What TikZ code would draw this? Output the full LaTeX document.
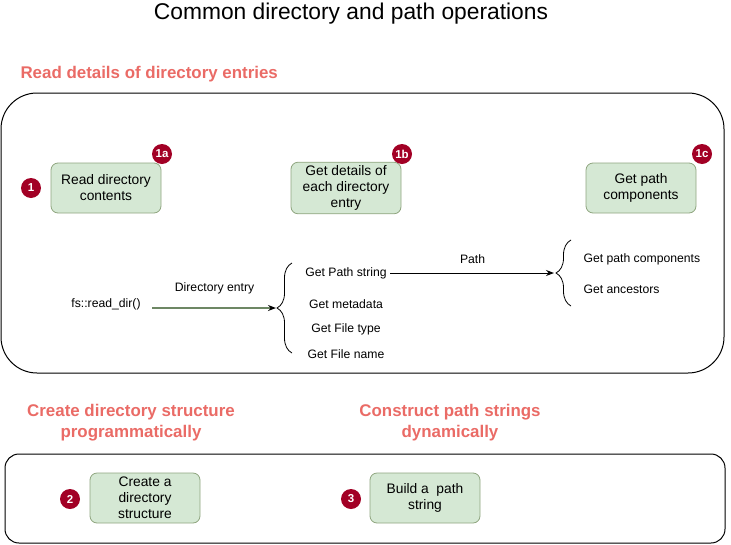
\documentclass[tikz,border=0pt]{standalone}
\usepackage{fontspec}
\setmainfont{Liberation Sans}
\usetikzlibrary{arrows.meta,positioning,decorations.pathreplacing}
\definecolor{boxfill}{HTML}{D5E8D4}
\definecolor{boxline}{HTML}{8FA57F}
\definecolor{badgered}{HTML}{A20025}
\definecolor{headred}{HTML}{EA6B66}
\definecolor{arrowgreen}{HTML}{6D8764}

\begin{document}
\begin{tikzpicture}[x=1pt,y=-1pt,>={Stealth[length=8pt,width=6pt]}]
    \tikzstyle{every node}=[font=\fontsize{12.2}{14}\selectfont]
    \tikzstyle{task}=[draw=boxline,fill=boxfill,line width=0.8pt,rounded corners=7pt,minimum width=110pt,minimum height=50pt,align=center,font=\fontsize{13.8}{16}\selectfont]
    \tikzstyle{badge}=[circle,fill=badgered,text=white,inner sep=0pt,minimum size=20pt,font=\fontsize{11.5}{11.5}\selectfont\bfseries]
    \tikzstyle{heading}=[text=headred,align=center,font=\fontsize{16.9}{21}\selectfont\bfseries]
    \tikzstyle{brc}=[decorate,decoration={brace,amplitude=15pt},draw=black,line width=0.8pt]

    \useasboundingbox (0,0) rectangle (731,544);

    \node[font=\fontsize{22.8}{26}\selectfont] (title) at (351,14) {Common directory and path operations};

    % reading directory entries
    \node[heading,anchor=west] (readhead) at (17,74) {Read details of directory entries};
    \draw[line width=1pt,rounded corners=36pt] (1,93) rectangle (724,373);

    \node[task]  (readdir) at (106,188) {Read directory\\contents};
    \node[task]  (details) at (346,188) {Get details of\\each directory\\entry};
    \node[task]  (comps)   at (641,188) {Get path\\components};
    \node[badge] (b1)  at (31,188)  {1};
    \node[badge] (b1a) at (162,154) {1a};
    \node[badge] (b1b) at (402,154) {1b};
    \node[badge] (b1c) at (702,154) {1c};

    \node (fsread) at (106,304) {fs::read\_dir()};
    \coordinate (tipA) at (277,308);
    \draw[brc] (292,353) -- (292,263);
    \node (pathstr) at (346,273) {Get Path string};
    \node (meta)    at (346,304) {Get metadata};
    \node (ftype)   at (346,329) {Get File type};
    \node (fname)   at (346,354) {Get File name};

    \coordinate (tipB) at (555,273);
    \draw[brc] (571,306) -- (571,240);
    \node[anchor=west] (pcomp) at (580,259) {Get path components};
    \node[anchor=west] (anc)   at (580,289) {Get ancestors};

    \path[->,shorten >=1pt]
    ([xshift=8pt]fsread.east |- tipA) edge[draw=arrowgreen,line width=1.2pt,-{Stealth[length=8pt,width=6pt,black]}] node[above=10pt] {Directory entry} (tipA)
    (pathstr.east) edge[draw=black,line width=1pt] node[above=6pt] {Path} (tipB);

    % creating and building
    \node[heading] (createhead) at (131,423) {Create directory structure\\programmatically};
    \node[heading] (buildhead)  at (450,423) {Construct path strings\\dynamically};
    \draw[line width=1pt,rounded corners=14pt] (5,454) rectangle (725,543);

    \node[task]  (mkdir) at (145,498) {Create a\\directory\\structure};
    \node[task]  (build) at (425,498) {Build a\ \ path\\string};
    \node[badge] (b2) at (70,499)  {2};
    \node[badge] (b3) at (351,499) {3};
\end{tikzpicture}
\end{document}
